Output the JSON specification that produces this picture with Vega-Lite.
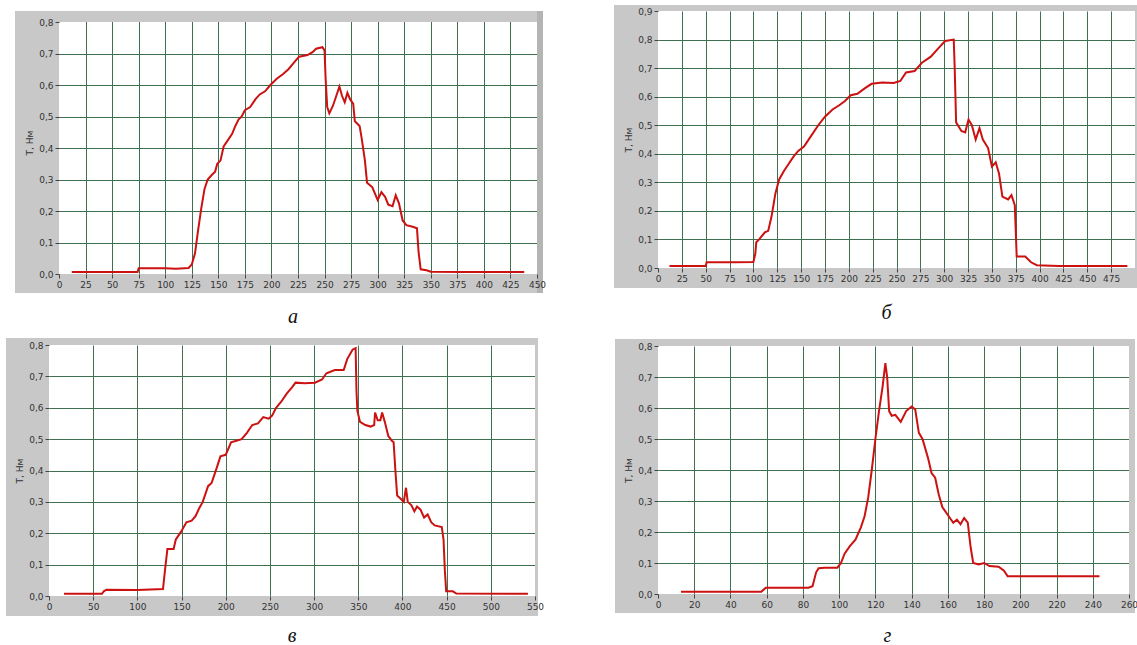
{
"$schema": "https://vega.github.io/schema/vega-lite/v6.json",
"usermeta": {"embedOptions": {"actions": false}},
"background": "white",
"padding": {"left": 5, "top": 5, "right": 0, "bottom": 0},
"config": {
  "view": {"stroke": null},
  "axis": {"labelFont": "DejaVu Sans", "labelFontSize": 9, "labelColor": "#333333", "tickColor": "#444444", "tickSize": 4, "labelPadding": 2, "titleFont": "DejaVu Sans", "titleFontSize": 9, "titleFontWeight": "normal", "titleColor": "#333333", "titlePadding": 4, "gridColor": "#3f7150", "gridOpacity": 1, "gridWidth": 1, "labelFlush": false, "labelOverlap": false, "domain": false}
},
"datasets": {
  "a": [{"t":12,"T":0.006},{"t":40,"T":0.006},{"t":74,"T":0.006},{"t":75,"T":0.018},{"t":100,"T":0.018},{"t":110,"T":0.017},{"t":122,"T":0.019},{"t":125,"T":0.03},{"t":128,"T":0.065},{"t":131,"T":0.14},{"t":134,"T":0.21},{"t":137,"T":0.27},{"t":140,"T":0.3},{"t":144,"T":0.315},{"t":147,"T":0.325},{"t":149,"T":0.35},{"t":152,"T":0.36},{"t":155,"T":0.405},{"t":159,"T":0.425},{"t":163,"T":0.445},{"t":166,"T":0.47},{"t":169,"T":0.49},{"t":172,"T":0.5},{"t":175,"T":0.52},{"t":180,"T":0.53},{"t":185,"T":0.555},{"t":189,"T":0.57},{"t":194,"T":0.58},{"t":199,"T":0.6},{"t":205,"T":0.62},{"t":211,"T":0.635},{"t":216,"T":0.65},{"t":221,"T":0.67},{"t":226,"T":0.69},{"t":234,"T":0.695},{"t":239,"T":0.705},{"t":242,"T":0.715},{"t":248,"T":0.72},{"t":250,"T":0.71},{"t":251,"T":0.62},{"t":252.5,"T":0.53},{"t":254.5,"T":0.51},{"t":258,"T":0.535},{"t":261,"T":0.565},{"t":264,"T":0.595},{"t":266.5,"T":0.565},{"t":269,"T":0.545},{"t":271.5,"T":0.575},{"t":274,"T":0.555},{"t":277,"T":0.54},{"t":278.5,"T":0.485},{"t":283,"T":0.47},{"t":285,"T":0.43},{"t":288,"T":0.36},{"t":290,"T":0.29},{"t":295,"T":0.275},{"t":300,"T":0.235},{"t":303.5,"T":0.26},{"t":307,"T":0.245},{"t":310,"T":0.22},{"t":314,"T":0.215},{"t":317,"T":0.25},{"t":320,"T":0.225},{"t":323.5,"T":0.17},{"t":327,"T":0.155},{"t":333,"T":0.15},{"t":337,"T":0.145},{"t":338.5,"T":0.07},{"t":340.5,"T":0.015},{"t":346,"T":0.012},{"t":350,"T":0.007},{"t":380,"T":0.006},{"t":438,"T":0.006}],
  "b": [{"t":12,"T":0.007},{"t":50,"T":0.007},{"t":51,"T":0.02},{"t":80,"T":0.02},{"t":100,"T":0.021},{"t":102,"T":0.05},{"t":103,"T":0.09},{"t":106,"T":0.1},{"t":112,"T":0.125},{"t":115.5,"T":0.13},{"t":119,"T":0.18},{"t":123,"T":0.26},{"t":127,"T":0.31},{"t":132,"T":0.34},{"t":136,"T":0.36},{"t":142,"T":0.39},{"t":147,"T":0.41},{"t":153,"T":0.425},{"t":160,"T":0.46},{"t":168,"T":0.5},{"t":175,"T":0.53},{"t":183,"T":0.555},{"t":190,"T":0.57},{"t":196,"T":0.585},{"t":202,"T":0.605},{"t":209,"T":0.61},{"t":217,"T":0.63},{"t":224,"T":0.645},{"t":235,"T":0.65},{"t":247,"T":0.648},{"t":254,"T":0.655},{"t":260,"T":0.685},{"t":269,"T":0.69},{"t":277,"T":0.72},{"t":286,"T":0.74},{"t":294,"T":0.77},{"t":301,"T":0.795},{"t":310,"T":0.8},{"t":311,"T":0.7},{"t":312.5,"T":0.51},{"t":318,"T":0.48},{"t":322,"T":0.475},{"t":325.5,"T":0.52},{"t":329,"T":0.5},{"t":333,"T":0.45},{"t":337,"T":0.49},{"t":340.5,"T":0.45},{"t":346,"T":0.42},{"t":350,"T":0.355},{"t":354,"T":0.37},{"t":357.5,"T":0.33},{"t":361,"T":0.25},{"t":367,"T":0.24},{"t":370.5,"T":0.255},{"t":374,"T":0.22},{"t":376,"T":0.04},{"t":385,"T":0.04},{"t":391,"T":0.02},{"t":397,"T":0.01},{"t":420,"T":0.007},{"t":492,"T":0.007}],
  "v": [{"t":17,"T":0.007},{"t":60,"T":0.007},{"t":62,"T":0.015},{"t":65,"T":0.02},{"t":100,"T":0.019},{"t":129,"T":0.022},{"t":131,"T":0.075},{"t":134,"T":0.15},{"t":141,"T":0.15},{"t":143.5,"T":0.18},{"t":149.5,"T":0.205},{"t":155.5,"T":0.235},{"t":161.5,"T":0.24},{"t":166,"T":0.255},{"t":170,"T":0.28},{"t":174,"T":0.3},{"t":180,"T":0.35},{"t":184,"T":0.36},{"t":190,"T":0.41},{"t":194,"T":0.445},{"t":200,"T":0.45},{"t":206,"T":0.49},{"t":212,"T":0.495},{"t":218,"T":0.5},{"t":224,"T":0.52},{"t":230,"T":0.545},{"t":236.5,"T":0.55},{"t":242.5,"T":0.57},{"t":248.5,"T":0.565},{"t":252.5,"T":0.575},{"t":257,"T":0.6},{"t":263,"T":0.62},{"t":269,"T":0.645},{"t":275,"T":0.665},{"t":279,"T":0.68},{"t":289,"T":0.678},{"t":301,"T":0.68},{"t":309,"T":0.69},{"t":314,"T":0.71},{"t":323.5,"T":0.72},{"t":333.5,"T":0.72},{"t":337.5,"T":0.755},{"t":343.5,"T":0.785},{"t":347,"T":0.79},{"t":348,"T":0.65},{"t":349,"T":0.59},{"t":352,"T":0.555},{"t":358,"T":0.545},{"t":364,"T":0.54},{"t":368,"T":0.545},{"t":369,"T":0.585},{"t":372,"T":0.56},{"t":375,"T":0.56},{"t":377,"T":0.585},{"t":380,"T":0.555},{"t":384,"T":0.51},{"t":388,"T":0.495},{"t":390,"T":0.49},{"t":392,"T":0.4},{"t":394,"T":0.32},{"t":398,"T":0.31},{"t":401.5,"T":0.3},{"t":404,"T":0.345},{"t":406,"T":0.3},{"t":410,"T":0.29},{"t":413.5,"T":0.27},{"t":416.5,"T":0.285},{"t":420.5,"T":0.275},{"t":424.5,"T":0.25},{"t":428.5,"T":0.26},{"t":432.5,"T":0.235},{"t":436.5,"T":0.225},{"t":444.5,"T":0.22},{"t":446.5,"T":0.18},{"t":448,"T":0.08},{"t":449.5,"T":0.015},{"t":457,"T":0.015},{"t":461,"T":0.008},{"t":542,"T":0.007}],
  "g": [{"t":12.7,"T":0.007},{"t":57,"T":0.007},{"t":59.5,"T":0.02},{"t":83,"T":0.02},{"t":85.3,"T":0.025},{"t":87.3,"T":0.07},{"t":88.7,"T":0.083},{"t":92,"T":0.085},{"t":99,"T":0.085},{"t":101,"T":0.1},{"t":103,"T":0.13},{"t":106,"T":0.155},{"t":109,"T":0.175},{"t":112,"T":0.215},{"t":114,"T":0.25},{"t":116,"T":0.31},{"t":118,"T":0.4},{"t":120,"T":0.5},{"t":122,"T":0.59},{"t":124,"T":0.67},{"t":125.5,"T":0.745},{"t":126.5,"T":0.7},{"t":127.6,"T":0.59},{"t":129,"T":0.575},{"t":131,"T":0.578},{"t":134,"T":0.555},{"t":137,"T":0.59},{"t":140,"T":0.605},{"t":142,"T":0.595},{"t":144,"T":0.52},{"t":146,"T":0.5},{"t":149,"T":0.44},{"t":151,"T":0.39},{"t":153,"T":0.375},{"t":155,"T":0.32},{"t":157,"T":0.28},{"t":160,"T":0.255},{"t":163,"T":0.23},{"t":165,"T":0.24},{"t":167,"T":0.225},{"t":169,"T":0.245},{"t":171,"T":0.23},{"t":172.6,"T":0.15},{"t":174,"T":0.1},{"t":177,"T":0.095},{"t":180,"T":0.1},{"t":183,"T":0.09},{"t":188,"T":0.088},{"t":191,"T":0.075},{"t":193,"T":0.057},{"t":243.7,"T":0.057}]
},
"spacing": 67,
"hconcat": [
 {"spacing": 10, "vconcat": [
  {"width": 488, "height": 263,
   "title": {"text": "а", "orient": "bottom", "frame": "group", "anchor": "middle", "offset": 14, "font": "Liberation Serif", "fontStyle": "italic", "fontWeight": "normal", "fontSize": 20, "color": "#111111"},
   "resolve": {"axis": {"x": "independent", "y": "independent"}},
   "layer": [
    {"data": {"name": "a"}, "mark": {"type": "line", "color": "#cc1111", "strokeWidth": 2},
     "encoding": {
      "x": {"field": "t", "type": "quantitative", "scale": {"domain": [-9.414, 450], "nice": false, "zero": false}, "axis": {"orient": "bottom", "grid": true, "values": [25,50,75,100,125,150,175,200,225,250,275,300,325,350,375,400,425], "labels": false, "ticks": false, "title": null, "zindex": 0, "minExtent": 0}},
      "y": {"field": "T", "type": "quantitative", "scale": {"domain": [0, 0.834921], "nice": false, "zero": false}, "axis": {"orient": "left", "grid": true, "values": [0.1,0.2,0.3,0.4,0.5,0.6,0.7], "labels": false, "ticks": false, "title": null, "zindex": 0, "minExtent": 0}}}},
    {"data": {"values": [{}]}, "mark": {"type": "rect", "color": "#c8c8c8"},
     "encoding": {
      "x": {"datum": -41.423, "type": "quantitative", "scale": {"domain": [-9.414, 450], "nice": false, "zero": false}, "axis": null}, "x2": {"datum": 0},
      "y": {"datum": -0.060317, "type": "quantitative", "scale": {"domain": [0, 0.834921], "nice": false, "zero": false}, "axis": {"orient": "left", "offset": -10, "values": [0,0.1,0.2,0.3,0.4,0.5,0.6,0.7,0.8], "grid": false, "labelExpr": "replace(format(datum.value, '.1f'), '.', ',')", "title": "T, Нм", "zindex": 1}}, "y2": {"datum": 0.834921}}},
    {"data": {"values": [{}]}, "mark": {"type": "rect", "color": "#c8c8c8"},
     "encoding": {
      "x": {"datum": 0, "type": "quantitative", "scale": {"domain": [-9.414, 450], "nice": false, "zero": false}, "axis": {"orient": "bottom", "values": [0,25,50,75,100,125,150,175,200,225,250,275,300,325,350,375,400,425,450], "grid": false, "title": null, "zindex": 1}}, "x2": {"datum": 450},
      "y": {"datum": -0.060317, "type": "quantitative", "scale": {"domain": [0, 0.834921], "nice": false, "zero": false}, "axis": null}, "y2": {"datum": 0}}},
    {"data": {"values": [{}]}, "mark": {"type": "rect", "color": "#b4b4b4"},
     "encoding": {
      "x": {"datum": 450, "type": "quantitative", "scale": {"domain": [-9.414, 450], "nice": false, "zero": false}, "axis": null}, "x2": {"datum": 455.649},
      "y": {"datum": -0.060317, "type": "quantitative", "scale": {"domain": [0, 0.834921], "nice": false, "zero": false}, "axis": null}, "y2": {"datum": 0.834921}}},
    {"data": {"values": [{}]}, "mark": {"type": "rect", "color": "#c8c8c8"},
     "encoding": {
      "x": {"datum": 0, "type": "quantitative", "scale": {"domain": [-9.414, 450], "nice": false, "zero": false}, "axis": null}, "x2": {"datum": 450},
      "y": {"datum": 0.8, "type": "quantitative", "scale": {"domain": [0, 0.834921], "nice": false, "zero": false}, "axis": null}, "y2": {"datum": 0.834921}}}
   ]},
  {"width": 486, "height": 251,
   "title": {"text": "в", "orient": "bottom", "frame": "group", "anchor": "middle", "offset": 10, "font": "Liberation Serif", "fontStyle": "italic", "fontWeight": "normal", "fontSize": 20, "color": "#111111"},
   "resolve": {"axis": {"x": "independent", "y": "independent"}},
   "layer": [
    {"data": {"name": "v"}, "mark": {"type": "line", "color": "#cc1111", "strokeWidth": 2},
     "encoding": {
      "x": {"field": "t", "type": "quantitative", "scale": {"domain": [0, 550], "nice": false, "zero": false}, "axis": {"orient": "bottom", "grid": true, "values": [50,100,150,200,250,300,350,400,450,500], "labels": false, "ticks": false, "title": null, "zindex": 0, "minExtent": 0}},
      "y": {"field": "T", "type": "quantitative", "scale": {"domain": [0, 0.8], "nice": false, "zero": false}, "axis": {"orient": "left", "grid": true, "values": [0.1,0.2,0.3,0.4,0.5,0.6,0.7], "labels": false, "ticks": false, "title": null, "zindex": 0, "minExtent": 0}}}},
    {"data": {"values": [{}]}, "mark": {"type": "rect", "color": "#c8c8c8"},
     "encoding": {
      "x": {"datum": -48.663, "type": "quantitative", "scale": {"domain": [0, 550], "nice": false, "zero": false}, "axis": null}, "x2": {"datum": 0},
      "y": {"datum": -0.063745, "type": "quantitative", "scale": {"domain": [0, 0.8], "nice": false, "zero": false}, "axis": {"orient": "left", "values": [0,0.1,0.2,0.3,0.4,0.5,0.6,0.7,0.8], "grid": false, "labelExpr": "replace(format(datum.value, '.1f'), '.', ',')", "title": "T, Нм", "zindex": 1}}, "y2": {"datum": 0.822311}}},
    {"data": {"values": [{}]}, "mark": {"type": "rect", "color": "#c8c8c8"},
     "encoding": {
      "x": {"datum": 0, "type": "quantitative", "scale": {"domain": [0, 550], "nice": false, "zero": false}, "axis": {"orient": "bottom", "values": [0,50,100,150,200,250,300,350,400,450,500,550], "grid": false, "title": null, "zindex": 1}}, "x2": {"datum": 550},
      "y": {"datum": -0.063745, "type": "quantitative", "scale": {"domain": [0, 0.8], "nice": false, "zero": false}, "axis": null}, "y2": {"datum": 0}}},
    {"data": {"values": [{}]}, "mark": {"type": "rect", "color": "#c8c8c8"},
     "encoding": {
      "x": {"datum": 550, "type": "quantitative", "scale": {"domain": [0, 550], "nice": false, "zero": false}, "axis": null}, "x2": {"datum": 553.395},
      "y": {"datum": -0.063745, "type": "quantitative", "scale": {"domain": [0, 0.8], "nice": false, "zero": false}, "axis": null}, "y2": {"datum": 0.822311}}},
    {"data": {"values": [{}]}, "mark": {"type": "rect", "color": "#c8c8c8"},
     "encoding": {
      "x": {"datum": 0, "type": "quantitative", "scale": {"domain": [0, 550], "nice": false, "zero": false}, "axis": null}, "x2": {"datum": 550},
      "y": {"datum": 0.8, "type": "quantitative", "scale": {"domain": [0, 0.8], "nice": false, "zero": false}, "axis": null}, "y2": {"datum": 0.822311}}}
   ]}
 ]},
 {"spacing": 14, "vconcat": [
  {"width": 477, "height": 257,
   "title": {"text": "б", "orient": "bottom", "frame": "group", "anchor": "middle", "offset": 15, "dx": -10, "font": "Liberation Serif", "fontStyle": "italic", "fontWeight": "normal", "fontSize": 20, "color": "#111111"},
   "resolve": {"axis": {"x": "independent", "y": "independent"}},
   "layer": [
    {"data": {"name": "b"}, "mark": {"type": "line", "color": "#cc1111", "strokeWidth": 2},
     "encoding": {
      "x": {"field": "t", "type": "quantitative", "scale": {"domain": [0, 500], "nice": false, "zero": false}, "axis": {"orient": "bottom", "grid": true, "values": [25,50,75,100,125,150,175,200,225,250,275,300,325,350,375,400,425,450,475], "labels": false, "ticks": false, "title": null, "zindex": 0, "minExtent": 0}},
      "y": {"field": "T", "type": "quantitative", "scale": {"domain": [0, 0.9], "nice": false, "zero": false}, "axis": {"orient": "left", "grid": true, "values": [0.1,0.2,0.3,0.4,0.5,0.6,0.7,0.8], "labels": false, "ticks": false, "title": null, "zindex": 0, "minExtent": 0}}}},
    {"data": {"values": [{}]}, "mark": {"type": "rect", "color": "#c8c8c8"},
     "encoding": {
      "x": {"datum": -46.122, "type": "quantitative", "scale": {"domain": [0, 500], "nice": false, "zero": false}, "axis": null}, "x2": {"datum": 0},
      "y": {"datum": -0.070039, "type": "quantitative", "scale": {"domain": [0, 0.9], "nice": false, "zero": false}, "axis": {"orient": "left", "values": [0,0.1,0.2,0.3,0.4,0.5,0.6,0.7,0.8,0.9], "grid": false, "labelExpr": "replace(format(datum.value, '.1f'), '.', ',')", "title": "T, Нм", "zindex": 1}}, "y2": {"datum": 0.92101}}},
    {"data": {"values": [{}]}, "mark": {"type": "rect", "color": "#c8c8c8"},
     "encoding": {
      "x": {"datum": 0, "type": "quantitative", "scale": {"domain": [0, 500], "nice": false, "zero": false}, "axis": {"orient": "bottom", "values": [0,25,50,75,100,125,150,175,200,225,250,275,300,325,350,375,400,425,450,475], "grid": false, "title": null, "zindex": 1}}, "x2": {"datum": 500},
      "y": {"datum": -0.070039, "type": "quantitative", "scale": {"domain": [0, 0.9], "nice": false, "zero": false}, "axis": null}, "y2": {"datum": 0}}},
    {"data": {"values": [{}]}, "mark": {"type": "rect", "color": "#c8c8c8"},
     "encoding": {
      "x": {"datum": 500, "type": "quantitative", "scale": {"domain": [0, 500], "nice": false, "zero": false}, "axis": null}, "x2": {"datum": 503.88},
      "y": {"datum": -0.070039, "type": "quantitative", "scale": {"domain": [0, 0.9], "nice": false, "zero": false}, "axis": null}, "y2": {"datum": 0.92101}}},
    {"data": {"values": [{}]}, "mark": {"type": "rect", "color": "#c8c8c8"},
     "encoding": {
      "x": {"datum": 0, "type": "quantitative", "scale": {"domain": [0, 500], "nice": false, "zero": false}, "axis": null}, "x2": {"datum": 500},
      "y": {"datum": 0.9, "type": "quantitative", "scale": {"domain": [0, 0.9], "nice": false, "zero": false}, "axis": null}, "y2": {"datum": 0.92101}}}
   ]},
  {"width": 471, "height": 248,
   "title": {"text": "г", "orient": "bottom", "frame": "group", "anchor": "middle", "offset": 13, "dx": -6, "font": "Liberation Serif", "fontStyle": "italic", "fontWeight": "normal", "fontSize": 20, "color": "#111111"},
   "resolve": {"axis": {"x": "independent", "y": "independent"}},
   "layer": [
    {"data": {"name": "g"}, "mark": {"type": "line", "color": "#cc1111", "strokeWidth": 2},
     "encoding": {
      "x": {"field": "t", "type": "quantitative", "scale": {"domain": [0, 260], "nice": false, "zero": false}, "axis": {"orient": "bottom", "grid": true, "values": [20,40,60,80,100,120,140,160,180,200,220,240], "labels": false, "ticks": false, "title": null, "zindex": 0, "minExtent": 0}},
      "y": {"field": "T", "type": "quantitative", "scale": {"domain": [0, 0.8], "nice": false, "zero": false}, "axis": {"orient": "left", "grid": true, "values": [0.1,0.2,0.3,0.4,0.5,0.6,0.7], "labels": false, "ticks": false, "title": null, "zindex": 0, "minExtent": 0}}}},
    {"data": {"values": [{}]}, "mark": {"type": "rect", "color": "#c8c8c8"},
     "encoding": {
      "x": {"datum": -23.737, "type": "quantitative", "scale": {"domain": [0, 260], "nice": false, "zero": false}, "axis": null}, "x2": {"datum": 0},
      "y": {"datum": -0.06129, "type": "quantitative", "scale": {"domain": [0, 0.8], "nice": false, "zero": false}, "axis": {"orient": "left", "values": [0,0.1,0.2,0.3,0.4,0.5,0.6,0.7,0.8], "grid": false, "labelExpr": "replace(format(datum.value, '.1f'), '.', ',')", "title": "T, Нм", "zindex": 1}}, "y2": {"datum": 0.822581}}},
    {"data": {"values": [{}]}, "mark": {"type": "rect", "color": "#c8c8c8"},
     "encoding": {
      "x": {"datum": 0, "type": "quantitative", "scale": {"domain": [0, 260], "nice": false, "zero": false}, "axis": {"orient": "bottom", "values": [0,20,40,60,80,100,120,140,160,180,200,220,240,260], "grid": false, "title": null, "zindex": 1}}, "x2": {"datum": 260},
      "y": {"datum": -0.06129, "type": "quantitative", "scale": {"domain": [0, 0.8], "nice": false, "zero": false}, "axis": null}, "y2": {"datum": 0}}},
    {"data": {"values": [{}]}, "mark": {"type": "rect", "color": "#c8c8c8"},
     "encoding": {
      "x": {"datum": 260, "type": "quantitative", "scale": {"domain": [0, 260], "nice": false, "zero": false}, "axis": null}, "x2": {"datum": 263.312},
      "y": {"datum": -0.06129, "type": "quantitative", "scale": {"domain": [0, 0.8], "nice": false, "zero": false}, "axis": null}, "y2": {"datum": 0.822581}}},
    {"data": {"values": [{}]}, "mark": {"type": "rect", "color": "#c8c8c8"},
     "encoding": {
      "x": {"datum": 0, "type": "quantitative", "scale": {"domain": [0, 260], "nice": false, "zero": false}, "axis": null}, "x2": {"datum": 260},
      "y": {"datum": 0.8, "type": "quantitative", "scale": {"domain": [0, 0.8], "nice": false, "zero": false}, "axis": null}, "y2": {"datum": 0.822581}}}
   ]}
 ]}
]
}
